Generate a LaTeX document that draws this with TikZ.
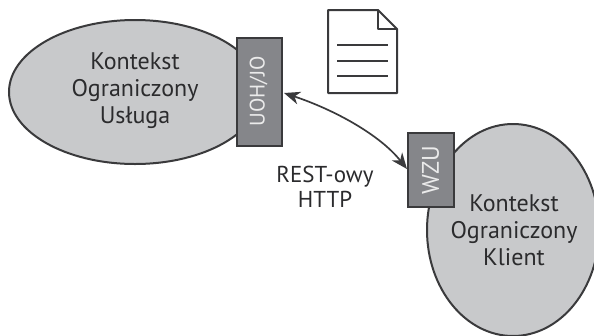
\documentclass[tikz,border=0pt]{standalone}
\usepackage{fontspec}
\setmainfont{PT Sans}
\usetikzlibrary{arrows.meta,shapes.geometric}
\definecolor{ctx}{HTML}{C8C9CB}
\definecolor{port}{HTML}{85868A}
\definecolor{ink}{HTML}{3A3A3C}
\definecolor{textink}{HTML}{2B2B2D}
\tikzset{
  ctxshape/.style={draw=ink,line width=2pt,fill=ctx,ellipse,inner sep=0pt},
  portbox/.style={draw=ink,line width=2.4pt,fill=port,inner sep=0pt},
  porttext/.style={text=white!92!black,rotate=90,font=\fontsize{21}{24}\selectfont},
  porttextb/.style={text=white!92!black,rotate=90,font=\fontsize{24}{26}\selectfont},
  lab/.style={align=center,text=textink,font=\fontsize{24}{27}\selectfont},
  resttext/.style={align=center,text=textink,font=\fontsize{23}{25.5}\selectfont},
  docline/.style={draw=ink,line width=1.6pt},
  conn/.style={draw=ink,line width=1.7pt,{Stealth[length=16pt,width=13pt,inset=5pt]}-{Stealth[length=16pt,width=13pt,inset=5pt]}}
}
\begin{document}
\begin{tikzpicture}[x=1pt,y=-1pt]
\useasboundingbox (0,0) rectangle (594,335);
\node[ctxshape,minimum width=252pt,minimum height=144pt] (svc) at (135,92) {};
\node[ctxshape,minimum width=172pt,minimum height=212pt] (cli) at (513,230) {};
\node[portbox,minimum width=45pt,minimum height=108pt] (pa) at (259.5,92) {};
\node[porttext] (pat) at (258.5,91.5) {UOH/JO};
\node[portbox,minimum width=45.5pt,minimum height=74pt] (pb) at (431,170) {};
\node[porttextb] (pbt) at (430.5,170) {WZU};
\node[lab] (t1) at (135,91) {Kontekst\\Ograniczony\\Usługa};
\node[lab] (t2) at (514,230.5) {Kontekst\\Ograniczony\\Klient};
\node[resttext] (t3) at (325,187) {REST-owy\\HTTP};
\coordinate (ca) at (284,93);
\coordinate (cb) at (407,169);
\draw[conn] (ca) .. controls (335,110) and (380,135) .. (cb);
\draw[draw=ink,line width=2pt,fill=white,line join=round] (328,10) -- (378,10) -- (397,29) -- (397,93) -- (328,93) -- cycle;
\draw[draw=ink,line width=2pt,line join=round] (378,10) -- (378,29) -- (397,29);
\draw[docline] (337,45) -- (388,45);
\draw[docline] (337,61) -- (388,61);
\draw[docline] (337,76) -- (388,76);
\end{tikzpicture}
\end{document}
